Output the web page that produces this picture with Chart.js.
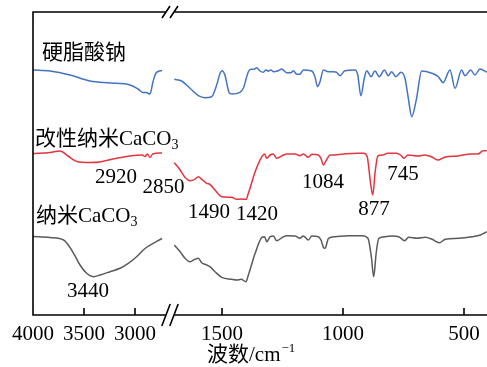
<!DOCTYPE html>
<html><head><meta charset="utf-8">
<script src="https://cdn.jsdelivr.net/npm/chart.js@4.4.0/dist/chart.umd.min.js"></script>
<style>html,body{margin:0;padding:0;background:#fff}#wrap{width:487px;height:367px}</style>
</head><body><div id="wrap"><canvas id="c" width="487" height="367"></canvas></div>
<script>
// ---- Data (wavenumber cm^-1, relative transmittance in arbitrary units) ----
const stearateWn = [4000,3833,3637,3441,3245,3049,2971,2922,2892,2853,2824,2794,2735,
  1697,1667,1632,1598,1570,1543,1522,1508,1499,1488,1471,1460,1426,1412,1391,1380,1367,1357,1343,1329,1319,1309,1298,1288,1267,1253,1233,1215,1205,1191,1178,1164,1129,1116,1105,1095,1081,1061,1040,1026,1012,992,950,939,926,912,902,884,868,850,829,813,799,782,760,744,730,716,696,675,633,606,586,558,537,510,496,472,455,434,406];
const stearateT = [245,244,240,234,232,230,226,222.5,222.5,221,233,242,244.5,
  235.7,234,226.7,219.3,217.3,218.3,230,241.7,244.3,240,222.7,221,222.7,226.7,243.3,245.7,245.7,247.3,244,242.7,245,244,245,243.3,244.3,246,242.3,242.3,244.3,240.7,240.7,245,244,238.3,228.3,233.3,245,243.3,243.3,242.7,239.3,244.3,245,240,219.3,236.7,244.3,238.3,244,238.3,245,239.3,243.3,238.3,242.7,236.7,216.7,198.3,216.7,244,241.7,238.3,232.3,245,226.7,245,239.3,245,240,246,242.7];

const modifiedWn = [4000,3833,3735,3657,3569,3441,3343,3216,3049,2931,2902,2879,2853,2826,2735,
  1697,1673,1653,1632,1612,1598,1584,1563,1550,1529,1501,1460,1439,1421,1401,1391,1363,1335,1324,1315,1301,1288,1274,1246,1233,1198,1178,1164,1143,1129,1102,1091,1081,1067,1053,1046,997,942,914,900,886,877,867,856,835,815,780,762,748,732,690,663,635,608,580,525,470,442,421,406];
const modifiedT = [161.5,162.5,164,159,153.5,152.5,153,156,159,160,158.5,161,157.5,161,162,
  152.3,145,137.7,134.3,135.7,138.3,135.7,131.7,130.7,125,118.3,117.7,115.7,116,115.7,121.7,143.3,158.3,161,156.7,160,161,156.7,160,161,161,159.3,161,157.7,160.7,160,156.7,150,155.7,160,160,161,161.7,161.7,158.3,131.7,120,143.3,159,160,161.7,161.7,160,156.7,160,159,160,158.3,155,157.7,159,161,161,164.3,164.3];

const nanoWn = [4000,3833,3700,3667,3602,3539,3474,3408,3343,3245,3147,3066,2984,2902,2735,
  1697,1673,1653,1632,1612,1598,1584,1563,1550,1529,1501,1460,1439,1421,1401,1391,1363,1335,1324,1315,1301,1288,1274,1246,1233,1198,1178,1164,1143,1129,1102,1091,1081,1074,1060,1032,977,921,897,883,873,863,852,825,797,770,745,729,694,660,632,602,577,522,467,432,406];
const nanoT = [78.5,77.5,75,71.7,61.7,50,41.7,38.3,40,43.3,46.7,51.7,58.3,66.5,76.5,
  70,63.3,56.7,53.3,55.7,56.7,52.3,50,48.3,43.3,37.7,35.7,35,35.7,33.3,40,61.7,77.7,78.3,73.3,78.3,79,74.3,78.3,79.3,79,76.7,79,75,79,78.3,75,67.7,66.7,76.7,78.3,79.3,79.3,76.7,58.3,38.3,61.7,76.7,78.3,79,78.3,74.3,77.7,76.7,77.7,75.7,72.3,75.7,76.7,78.3,80,83.3];

const tickWn = [4000,3500,3000,1500,1000,500];
const tickLabels = ['4000','3500','3000','1500','1000','500'];
const seriesNames = ['硬脂酸钠','改性纳米CaCO','纳米CaCO'];
const peakLabels = ['2920','2850','1490','1420','1084','877','745','3440'];
const axisTitle = '波数/cm';

// ---- Broken wavenumber axis: 4000-2700 compressed, 1700-400 expanded ----
const BREAK_WN = 2200;
function axisPos(wn){ return wn >= BREAK_WN ? (4000 - wn) * 0.102 : 189 + (1500 - wn) * 0.242; }
const BREAK_POS = 137;

function build(wn, t){
  const out = [];
  for (let i = 0; i < wn.length; i++){
    if (i > 0 && wn[i-1] >= BREAK_WN && wn[i] < BREAK_WN) out.push({x: BREAK_POS, y: null});
    out.push({x: axisPos(wn[i]), y: t[i]});
  }
  return out;
}

const SERIF = "'Liberation Serif', 'Noto Sans CJK SC', serif";

const overlay = {
  id: 'overlay',
  afterDraw(chart){
    const ctx = chart.ctx, a = chart.chartArea, xs = chart.scales.x;
    const L = a.left, T = a.top, B = a.bottom, R = chart.width;
    const xb = xs.getPixelForValue(BREAK_POS);
    ctx.save();
    ctx.strokeStyle = '#000'; ctx.lineWidth = 1.6; ctx.lineCap = 'butt';
    ctx.beginPath();
    ctx.moveTo(L, T); ctx.lineTo(xb - 4, T);
    ctx.moveTo(xb + 4, T); ctx.lineTo(R, T);
    ctx.moveTo(L, B); ctx.lineTo(xb - 4, B);
    ctx.moveTo(xb + 4, B); ctx.lineTo(R, B);
    ctx.moveTo(L, T - 0.8); ctx.lineTo(L, B + 0.8);
    // break marks
    [xb - 4, xb + 4].forEach(x => {
      ctx.moveTo(x - 4, T + 6); ctx.lineTo(x + 4, T - 6);
      ctx.moveTo(x - 4.2, B + 11); ctx.lineTo(x + 4.2, B - 11);
    });
    // inward ticks
    tickWn.forEach((w, i) => {
      if (i === 0) return;
      const x = xs.getPixelForValue(axisPos(w));
      ctx.moveTo(x, B); ctx.lineTo(x, B - 7);
    });
    ctx.stroke();

    ctx.fillStyle = '#000';
    ctx.textBaseline = 'alphabetic';
    const F = 21;
    function txt(s, x, y, align){ ctx.font = F + 'px ' + SERIF; ctx.textAlign = align || 'left'; ctx.fillText(s, x, y); }
    // series labels
    txt(seriesNames[0], 42, 59);
    ctx.font = F + 'px ' + SERIF; ctx.textAlign = 'left';
    ctx.fillText(seriesNames[1], 35, 145);
    let w1 = ctx.measureText(seriesNames[1]).width;
    ctx.font = '14px ' + SERIF; ctx.fillText('3', 35 + w1, 149);
    ctx.font = F + 'px ' + SERIF;
    ctx.fillText(seriesNames[2], 36, 222);
    let w2 = ctx.measureText(seriesNames[2]).width;
    ctx.font = '14px ' + SERIF; ctx.fillText('3', 36 + w2, 226);
    // peak labels
    const pk = [[116,183],[163.5,193],[209,217.5],[257,220],[323,188],[374,215],[403,180],[88,297]];
    peakLabels.forEach((s, i) => txt(s, pk[i][0], pk[i][1], 'center'));
    // axis title
    ctx.font = F + 'px ' + SERIF; ctx.textAlign = 'left';
    ctx.fillText(axisTitle, 207, 361);
    const wt = ctx.measureText(axisTitle).width;
    ctx.font = '13px ' + SERIF;
    ctx.fillText('\u22121', 207 + wt + 1, 352);
    ctx.restore();
  }
};

new Chart(document.getElementById('c'), {
  type: 'line',
  data: {
    datasets: [
      {label: seriesNames[0], data: build(stearateWn, stearateT), borderColor: '#4472C4'},
      {label: seriesNames[1] + '3', data: build(modifiedWn, modifiedT), borderColor: '#E3343F'},
      {label: seriesNames[2] + '3', data: build(nanoWn, nanoT), borderColor: '#5A5A5A'}
    ].map(d => Object.assign(d, {borderWidth: 1.5, pointRadius: 0, fill: false, cubicInterpolationMode: 'monotone', spanGaps: false}))
  },
  options: {
    responsive: false, animation: false, devicePixelRatio: 1,
    layout: {padding: {left: 33, right: 0, top: 12, bottom: 0}},
    plugins: {legend: {display: false}, tooltip: {enabled: false}},
    scales: {
      x: {
        type: 'linear', min: 0, max: 454,
        afterBuildTicks: s => { s.ticks = tickWn.map(w => ({value: axisPos(w)})); },
        afterFit: s => { s.height = 52; },
        ticks: {
          autoSkip: false, maxRotation: 0, padding: 7, color: '#000',
          font: {family: 'Liberation Serif', size: 21},
          callback: v => { const i = tickWn.findIndex(w => Math.abs(axisPos(w) - v) < 0.01); return i >= 0 ? tickLabels[i] : ''; }
        },
        grid: {display: false, drawTicks: false, tickLength: 0}, border: {display: false}
      },
      y: {display: false, min: 0, max: 303}
    }
  },
  plugins: [overlay]
});
</script></body></html>
